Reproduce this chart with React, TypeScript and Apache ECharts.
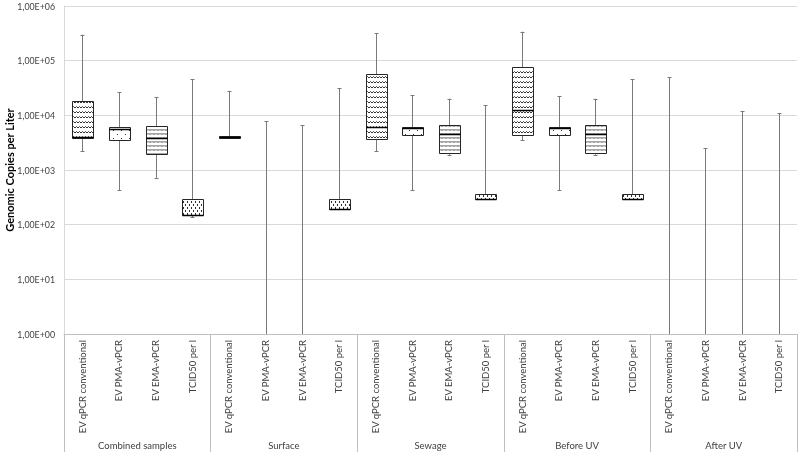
import React, { useEffect, useRef } from 'react';
import * as echarts from 'echarts';

const groups = ['Combined samples', 'Surface', 'Sewage', 'Before UV', 'After UV'];
const methods = ['EV qPCR conventional', 'EV PMA-vPCR', 'EV EMA-vPCR', 'TCID50 per l'];
const categories = groups.flatMap(() => methods);

const lowValues = [2200, 425, 720, 136, 3850, 1, 1, 196, 2220, 425, 1900, 291, 3490, 425, 1900, 291, 1, 1, 1, 1];
const q1Values = [3900, 3540, 1940, 150, 3900, null, null, 196, 3690, 4300, 2020, 291, 4370, 4300, 2020, 291, null, null, null, null];
const medianValues = [4050, 5700, 3850, 150, 4050, null, null, 196, 6000, 5800, 4490, 291, 12500, 5800, 4490, 291, null, null, null, null];
const q3Values = [18000, 6200, 6450, 291, 4240, null, null, 291, 57000, 6030, 6740, 364, 75500, 6030, 6740, 364, null, null, null, null];
const highValues = [300000, 26700, 21400, 45600, 28000, 7800, 6650, 31200, 317000, 23200, 20200, 15200, 339000, 22300, 20200, 45600, 50000, 2500, 11800, 10900];

const FONT = 'Lato, sans-serif';

function makePattern(w: number, h: number, draw: (ctx: CanvasRenderingContext2D) => void) {
  const c = document.createElement('canvas');
  c.width = w;
  c.height = h;
  const ctx = c.getContext('2d')!;
  ctx.fillStyle = '#ffffff';
  ctx.fillRect(0, 0, w, h);
  ctx.strokeStyle = '#333333';
  ctx.fillStyle = '#333333';
  ctx.lineWidth = 1;
  draw(ctx);
  return { image: c, repeat: 'repeat', imageWidth: w, imageHeight: h } as any;
}

function fmtY(v: number) {
  const exp = Math.round(Math.log10(v));
  const mant = (v / Math.pow(10, exp)).toFixed(2).replace('.', ',');
  const sign = exp < 0 ? '-' : '+';
  return `${mant}E${sign}${String(Math.abs(exp)).padStart(2, '0')}`;
}

export default function App() {
  const ref = useRef<HTMLDivElement>(null);
  useEffect(() => {
    if (!ref.current) return;
    const chart = echarts.init(ref.current, undefined, { renderer: 'svg' });

    const patterns = [
      // wavy horizontal lines
      makePattern(6, 5, (ctx) => {
        ctx.beginPath();
        ctx.moveTo(0, 3);
        ctx.lineTo(1.5, 1.5);
        ctx.lineTo(3, 3);
        ctx.lineTo(4.5, 1.5);
        ctx.lineTo(6, 3);
        ctx.stroke();
      }),
      // sparse dots
      makePattern(8, 8, (ctx) => {
        ctx.fillRect(1, 2, 1, 1);
        ctx.fillRect(5, 6, 1, 1);
      }),
      // dense waves
      makePattern(4, 4, (ctx) => {
        ctx.beginPath();
        ctx.moveTo(0, 2.5);
        ctx.lineTo(1, 1.5);
        ctx.lineTo(2, 2.5);
        ctx.lineTo(3, 1.5);
        ctx.lineTo(4, 2.5);
        ctx.stroke();
      }),
      // vertical dashes
      makePattern(4, 6, (ctx) => {
        ctx.fillRect(1, 0, 1, 2);
        ctx.fillRect(3, 3, 1, 2);
      }),
    ];

    const data = lowValues.map((l, i) => [i, l, q1Values[i], medianValues[i], q3Values[i], highValues[i]]);

    chart.setOption({
      animation: false,
      textStyle: { fontFamily: FONT },
      grid: { left: 64, right: 3, top: 6, bottom: 121, containLabel: false, outerBoundsMode: 'none' },
      xAxis: [
        {
          type: 'category',
          data: categories,
          boundaryGap: true,
          axisLine: { show: true, lineStyle: { color: '#bfbfbf', width: 1 } },
          axisTick: { show: false },
          axisLabel: { interval: 0, rotate: 90, margin: 6, fontSize: 9.5, color: '#404040', fontFamily: FONT },
          splitLine: { show: false },
        },
        {
          type: 'category',
          data: groups,
          position: 'bottom',
          boundaryGap: true,
          axisLine: { show: false },
          axisTick: { show: true, length: 118, lineStyle: { color: '#bfbfbf', width: 1 } },
          axisLabel: { interval: 0, margin: 106, fontSize: 9.5, color: '#404040', fontFamily: FONT },
          splitLine: { show: false },
        },
      ],
      yAxis: {
        type: 'log',
        logBase: 10,
        min: 1,
        max: 1000000,
        name: 'Genomic Copies per Liter',
        nameLocation: 'middle',
        nameGap: 49,
        nameMoveOverlap: false,
        nameTextStyle: { fontWeight: 'bold', fontSize: 11, color: '#000', fontFamily: FONT },
        axisLine: { show: true, lineStyle: { color: '#d9d9d9' } },
        axisTick: { show: false },
        axisLabel: { formatter: fmtY, fontSize: 8.8, color: '#404040', margin: 9, fontFamily: FONT },
        splitLine: { show: true, lineStyle: { color: '#d9d9d9', width: 1 } },
      },
      series: [
        {
          type: 'custom',
          xAxisIndex: 0,
          yAxisIndex: 0,
          encode: { x: 0, y: [1, 2, 3, 4, 5] },
          data,
          renderItem: (params: any, api: any) => {
            const i = api.value(0);
            const low = api.value(1);
            const q1 = api.value(2);
            const med = api.value(3);
            const q3 = api.value(4);
            const high = api.value(5);
            const pLow = api.coord([i, low]);
            const pHigh = api.coord([i, high]);
            const cx = Math.round(pLow[0]) + 0.5;
            const bw = api.size([1, 1])[0] * 0.58;
            const children: any[] = [];
            const wStyle = { stroke: '#7a7a7a', lineWidth: 1 };
            children.push({ type: 'line', shape: { x1: cx, y1: pLow[1], x2: cx, y2: pHigh[1] }, style: wStyle });
            children.push({
              type: 'line',
              shape: { x1: cx - 2, y1: Math.round(pHigh[1]) + 0.5, x2: cx + 2, y2: Math.round(pHigh[1]) + 0.5 },
              style: wStyle,
            });
            if (low > 1) {
              children.push({
                type: 'line',
                shape: { x1: cx - 2, y1: Math.round(pLow[1]) + 0.5, x2: cx + 2, y2: Math.round(pLow[1]) + 0.5 },
                style: wStyle,
              });
            }
            if (isFinite(q1) && q1 > 0 && isFinite(q3)) {
              const y1 = Math.round(api.coord([i, q1])[1]) + 0.5;
              const y3 = Math.round(api.coord([i, q3])[1]) + 0.5;
              const x0 = Math.round(cx - bw / 2) + 0.5;
              const x1 = Math.round(cx + bw / 2) + 0.5;
              children.push({
                type: 'rect',
                shape: { x: x0, y: y3, width: x1 - x0, height: Math.max(1, y1 - y3) },
                style: { fill: patterns[i % 4], stroke: '#262626', lineWidth: 1 },
              });
              if (isFinite(med)) {
                const ym = Math.round(api.coord([i, med])[1]) + 0.5;
                children.push({ type: 'line', shape: { x1: x0, y1: ym, x2: x1, y2: ym }, style: { stroke: '#000', lineWidth: 1.5 } });
              }
            }
            return { type: 'group', children };
          },
        },
      ],
    });
    return () => chart.dispose();
  }, []);
  return <div ref={ref} style={{ position: 'fixed', left: 0, top: 0, width: 800, height: 455 }} />;
}
